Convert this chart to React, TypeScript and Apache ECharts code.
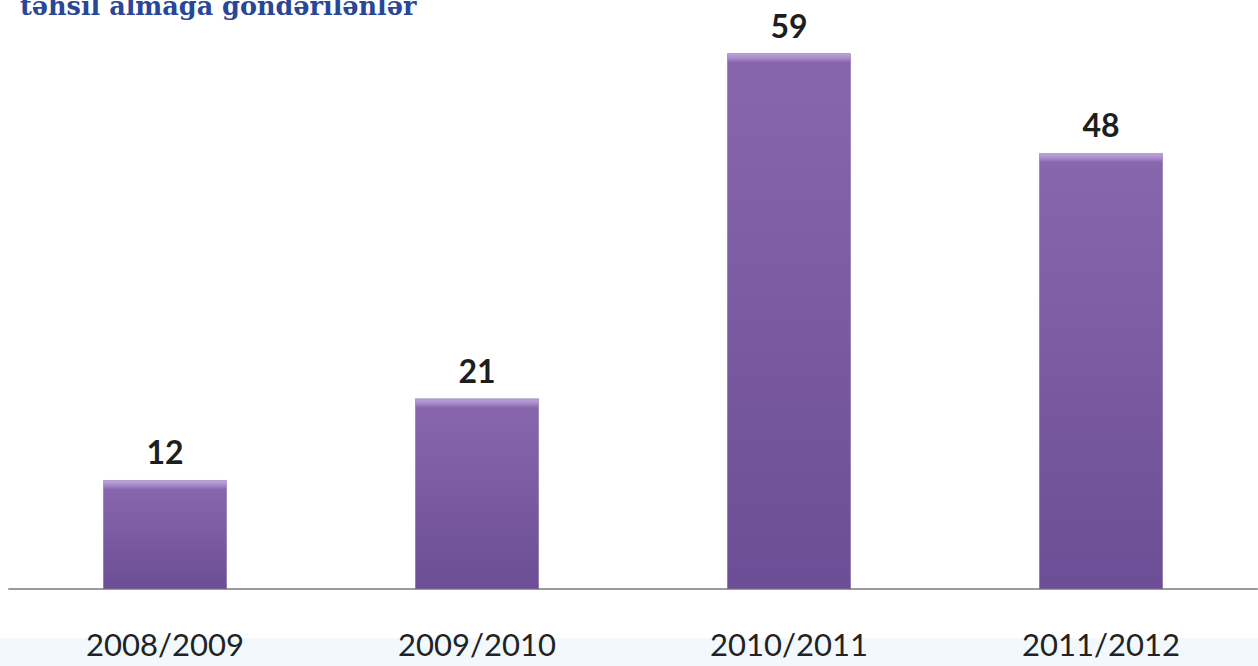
import React, { useEffect, useRef } from "react";
import * as echarts from "echarts";

const categories = ["2008/2009", "2009/2010", "2010/2011", "2011/2012"];
const values = [12, 21, 59, 48];
const titleText = "təhsil almağa göndərilənlər";

export default function App() {
  const ref = useRef<HTMLDivElement>(null);
  useEffect(() => {
    document.body.style.margin = "0";
    const chart = echarts.init(ref.current!, null, { renderer: "svg" });
    const gridTop = 53;
    const gridBottom = 77;
    const plotH = 666 - gridTop - gridBottom;
    const maxV = 59;
    const data = values.map((v) => {
      const h = (v / maxV) * plotH;
      const s = Math.min(0.5, 9 / h);
      return {
        value: v,
        itemStyle: {
          color: new echarts.graphic.LinearGradient(0, 0, 0, 1, [
            { offset: 0, color: "#bca6da" },
            { offset: s * 0.5, color: "#a98ccc" },
            { offset: s, color: "#8866ae" },
            { offset: 1, color: "#6b4e95" },
          ]),
          borderColor: "rgba(90,60,130,0.35)",
          borderWidth: 1,
        },
      };
    });
    chart.setOption({
      animation: false,
      backgroundColor: "#ffffff",
      grid: { left: 9, right: 1, top: gridTop, bottom: gridBottom, containLabel: false },
      graphic: [
        {
          type: "rect",
          z: -10,
          silent: true,
          shape: { x: 0, y: 638, width: 1258, height: 28 },
          style: { fill: "#f3f8fc" },
        },
        {
          type: "text",
          left: 20,
          top: -7,
          style: {
            text: titleText,
            font: "bold 25.5px 'DejaVu Serif'",
            fill: "#2a4797",
          },
        },
      ],
      xAxis: {
        type: "category",
        data: categories,
        axisLine: { lineStyle: { color: "#9a9a9a", width: 2 } },
        axisTick: { show: false },
        axisLabel: {
          margin: 39,
          fontFamily: "Lato",
          fontSize: 31,
          color: "#222222",
        },
      },
      yAxis: {
        type: "value",
        min: 0,
        max: maxV,
        show: false,
        splitLine: { show: false },
      },
      series: [
        {
          type: "bar",
          data,
          barWidth: 124,
          label: {
            show: true,
            position: "top",
            distance: 12,
            fontFamily: "Lato",
            fontWeight: "bold",
            fontSize: 32,
            color: "#1e1e1e",
          },
        },
      ],
    });
    return () => chart.dispose();
  }, []);
  return <div ref={ref} style={{ width: 1258, height: 666 }} />;
}
